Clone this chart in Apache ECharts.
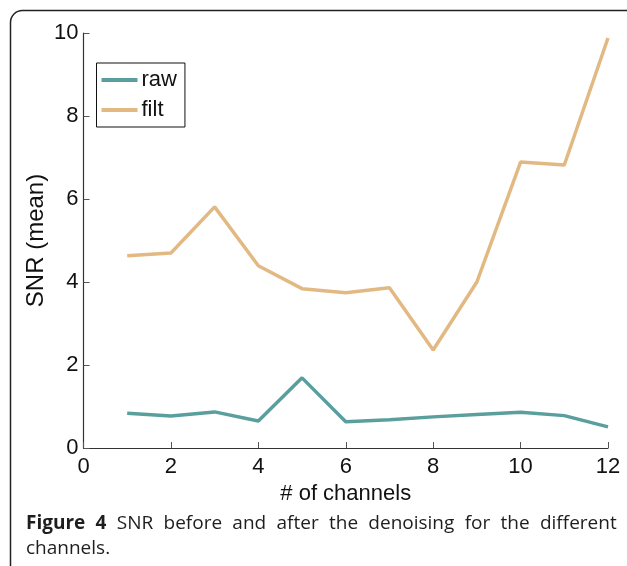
<!DOCTYPE html>
<html><head><meta charset="utf-8">
<script src="https://cdn.jsdelivr.net/npm/echarts@6/dist/echarts.min.js"></script>
<style>html,body{margin:0;padding:0;background:#fff}#c{width:627px;height:566px}</style>
</head><body><div id="c"></div>
<script>
const channels = [1,2,3,4,5,6,7,8,9,10,11,12];
const rawSNR = [0.84,0.77,0.87,0.65,1.69,0.63,0.68,0.75,0.81,0.86,0.78,0.51];
const filtSNR = [4.63,4.70,5.81,4.39,3.84,3.74,3.86,2.36,4.00,6.89,6.82,9.88];
const xTicks = [0,2,4,6,8,10,12];
const yTicks = [0,2,4,6,8,10];
const captionBold = ['Figure','4'];
const captionLine1 = ['SNR','before','and','after','the','denoising','for','the','different'];
const captionLine2 = 'channels.';

const chart = echarts.init(document.getElementById('c'), null, {renderer:'canvas'});
const F = 'Liberation Sans, Arial, sans-serif';
const CF = 'Open Sans, sans-serif';
const line1 = captionBold.map(w=>'{b|'+w+'}').concat(captionLine1).join('{s| }');
chart.setOption({
  animation:false,
  graphic:[
    {type:'rect', shape:{x:10.5,y:10.5,width:700,height:700,r:12}, style:{fill:'none',stroke:'#222',lineWidth:1.5}, z:-1},
    {type:'text', left:26, top:511, style:{text:line1 + '\n' + captionLine2, fontFamily:CF, fontSize:19, lineHeight:25, fill:'#1e1e1e',
      rich:{b:{fontWeight:'bold',fontFamily:CF,fontSize:19,fill:'#1e1e1e',lineHeight:25}, s:{width:10.3,fontSize:19,lineHeight:25}}}}
  ],
  grid:{left:83.5, right:19, top:33, bottom:118, containLabel:false},
  legend:{
    left:96.5, top:63, orient:'vertical', data:['raw','filt'],
    borderColor:'#111', borderWidth:1, padding:[6,8,6,5], itemGap:8,
    itemWidth:36, itemHeight:4,
    textStyle:{fontFamily:F, fontSize:22, color:'#111', padding:[0,0,0,-1]},
    icon:'rect'
  },
  xAxis:{
    type:'value', min:0, max:12, interval:2,
    name:'# of channels', nameLocation:'middle', nameGap:31,
    nameTextStyle:{fontFamily:F, fontSize:22, color:'#111'},
    axisLine:{lineStyle:{color:'#333', width:1.2}},
    axisTick:{inside:true, length:6, lineStyle:{color:'#555'}},
    axisLabel:{fontFamily:F, fontSize:22, color:'#111', margin:8, customValues:xTicks},
    splitLine:{show:false}
  },
  yAxis:{
    type:'value', min:0, max:10, interval:2,
    name:'SNR (mean)', nameLocation:'middle', nameGap:35, nameMoveOverlap:false,
    nameTextStyle:{fontFamily:F, fontSize:24, color:'#111'},
    axisLine:{show:true, lineStyle:{color:'#333', width:1.2}},
    axisTick:{show:true, inside:true, length:6, lineStyle:{color:'#555'}},
    axisLabel:{fontFamily:F, fontSize:22, color:'#111', margin:5, customValues:yTicks},
    splitLine:{show:false}
  },
  series:[
    {name:'raw', type:'line', data:channels.map((c,i)=>[c,rawSNR[i]]), showSymbol:false, symbol:'none', lineStyle:{color:'#5b9e9e', width:3.5}, itemStyle:{color:'#5b9e9e'}},
    {name:'filt', type:'line', data:channels.map((c,i)=>[c,filtSNR[i]]), showSymbol:false, symbol:'none', lineStyle:{color:'#e2b983', width:3.5}, itemStyle:{color:'#e2b983'}}
  ]
});
</script></body></html>
